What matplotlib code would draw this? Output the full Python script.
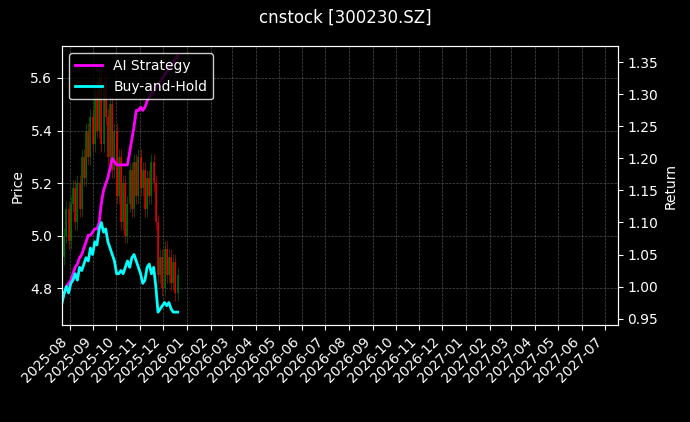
import numpy as np
import pandas as pd
import matplotlib.pyplot as plt
import matplotlib.dates as mdates

dates = pd.date_range("2025-07-22", "2025-12-20", periods=54)
close = [4.92, 5.00, 5.10, 4.98, 5.12, 5.18, 5.05, 5.20, 5.10, 5.30,
         5.22, 5.40, 5.30, 5.45, 5.35, 5.55, 5.40, 5.60, 5.35, 5.58,
         5.45, 5.30, 5.50, 5.25, 5.40, 5.15, 5.30, 5.05, 5.20, 5.00,
         5.12, 5.25, 5.10, 5.28, 5.15, 5.30, 5.18, 5.25, 5.10, 5.22,
         5.15, 5.28, 5.20, 5.05, 4.85, 4.92, 4.80, 4.95, 4.85, 4.92,
         4.82, 4.90, 4.78, 4.85]
ai_ret = [0.98, 0.99, 1.00, 1.005, 1.01, 1.02, 1.03, 1.035, 1.045, 1.05,
          1.06, 1.07, 1.08, 1.08, 1.085, 1.09, 1.09, 1.10, 1.13, 1.15,
          1.16, 1.17, 1.185, 1.20, 1.195, 1.19, 1.19, 1.19, 1.19, 1.19,
          1.19, 1.21, 1.23, 1.25, 1.275, 1.275, 1.28, 1.275, 1.28, 1.29,
          1.295, 1.30, 1.305, 1.31, 1.315, 1.32, 1.325, 1.33, 1.335, 1.34,
          1.345, 1.35, 1.355, 1.36]
bh_ret = [0.975, 0.99, 1.00, 0.99, 1.005, 1.01, 1.02, 1.01, 1.03, 1.025,
          1.035, 1.045, 1.04, 1.06, 1.05, 1.07, 1.065, 1.09, 1.10, 1.085,
          1.09, 1.07, 1.06, 1.05, 1.04, 1.02, 1.02, 1.025, 1.02, 1.03,
          1.04, 1.03, 1.045, 1.05, 1.04, 1.03, 1.02, 1.005, 1.01, 1.03,
          1.035, 1.02, 1.03, 1.00, 0.96, 0.965, 0.97, 0.975, 0.97, 0.975,
          0.965, 0.96, 0.96, 0.96]

plt.style.use("dark_background")
fig, ax = plt.subplots(figsize=(6.9, 4.22), dpi=100)
fig.patch.set_facecolor("black")
ax.set_facecolor("black")

opens = [close[0]] + close[:-1]
for d, o, c in zip(dates, opens, close):
    col = "green" if c >= o else "red"
    ax.vlines(d, min(o, c), max(o, c), color=col, linewidth=1.2, alpha=0.8)
    ax.vlines(d, min(o, c) - 0.03, max(o, c) + 0.03, color=col, linewidth=0.5, alpha=0.8)

ax.set_ylabel("Price")
ax.set_ylim(4.66, 5.72)
ax.grid(True, color="grey", linestyle="--", linewidth=0.5, alpha=0.6)

ax2 = ax.twinx()
ax2.plot(dates, ai_ret, color="magenta", linewidth=2, label="AI Strategy")
ax2.plot(dates, bh_ret, color="cyan", linewidth=2, label="Buy-and-Hold")
ax2.set_ylabel("Return")
ax2.set_ylim(0.94, 1.375)
ax2.legend(loc="upper left", facecolor="black", edgecolor="white")

ax.set_xlim(pd.Timestamp("2025-07-22"), pd.Timestamp("2027-07-18"))
ax.xaxis.set_major_locator(mdates.MonthLocator())
ax.xaxis.set_major_formatter(mdates.DateFormatter("%Y-%m"))
plt.setp(ax.get_xticklabels(), rotation=45, ha="right")

fig.suptitle("cnstock [300230.SZ]")
fig.subplots_adjust(left=0.09, right=0.895, top=0.89, bottom=0.23)
fig.savefig("out.png", facecolor="black")
